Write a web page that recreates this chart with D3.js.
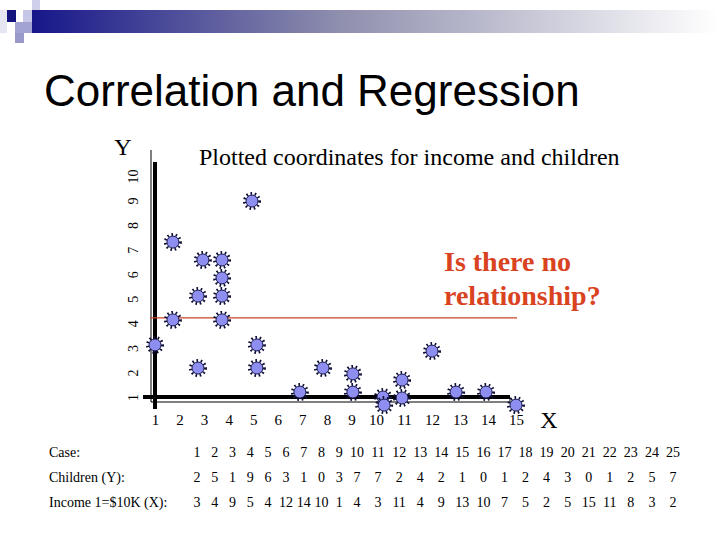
<!DOCTYPE html>
<html>
<head>
<meta charset="utf-8">
<script src="https://cdn.jsdelivr.net/npm/d3@7"></script>
<style>
  body { margin: 0; background: #fff; }
  svg { display: block; }
</style>
</head>
<body>
<div id="chart"></div>
<script>
// Plotted points (income x, children y)
const pointX = [1, 1.73, 1.73, 2.75, 2.75, 2.95, 3.73, 3.73, 3.73, 3.73, 4.95, 5.15, 5.15,
  6.9, 7.84, 9.06, 9.06, 10.25, 10.29, 10.93, 10.93, 12, 12.86, 13.93, 15];
const pointY = [3.12, 7.31, 4.14, 5.11, 2.18, 6.58, 6.58, 5.85, 5.11, 4.14, 8.98, 3.12, 2.18,
  1.2, 2.18, 1.94, 1.2, 1.0, 0.67, 1.69, 0.96, 2.87, 1.2, 1.2, 0.67];

const xTicks = [1, 2, 3, 4, 5, 6, 7, 8, 9, 10, 11, 12, 13, 14, 15];
const yTicks = [1, 2, 3, 4, 5, 6, 7, 8, 9, 10];
const refLine = 4.22;

// Data table under the chart
const cases = d3.range(1, 26);
const children = [2, 5, 1, 9, 6, 3, 1, 0, 3, 7, 7, 2, 4, 2, 1, 0, 1, 2, 4, 3, 0, 1, 2, 5, 7];
const income = [3, 4, 9, 5, 4, 12, 14, 10, 1, 4, 3, 11, 4, 9, 13, 10, 7, 5, 2, 5, 15, 11, 8, 3, 2];
const rowLabels = ['Case:', 'Children (Y):', 'Income 1=$10K (X):'];

const width = 720, height = 540;
const serif = '"Liberation Serif", "Times New Roman", serif';

const svg = d3.select('#chart')
  .append('svg')
    .attr('width', width)
    .attr('height', height);

// Slide header decoration
const defs = svg.append('defs');
const grad = defs.append('linearGradient').attr('id', 'hdr');
grad.append('stop').attr('offset', '0%').attr('stop-color', '#16168a');
grad.append('stop').attr('offset', '45%').attr('stop-color', '#8f8fae');
grad.append('stop').attr('offset', '100%').attr('stop-color', '#ffffff');
svg.append('rect').attr('x', 32).attr('y', 10).attr('width', 685).attr('height', 23)
  .attr('fill', 'url(#hdr)');

const squares = [
  [0, 10, 7, 23, '#e6e6f3'],
  [7, 10, 9, 12, '#14147e'],
  [32, 0, 8, 10, '#cfcfea'],
  [23, 10, 9, 12, '#c6c6e6'],
  [15, 22, 17, 11, '#a3a3d3'],
  [15, 33, 9, 10, '#9a9ac8']
];
svg.selectAll('rect.sq')
  .data(squares)
  .enter()
  .append('rect')
    .attr('class', 'sq')
    .attr('x', d => d[0]).attr('y', d => d[1])
    .attr('width', d => d[2]).attr('height', d => d[3])
    .attr('fill', d => d[4]);

// Title
svg.append('text')
  .attr('x', 44).attr('y', 106)
  .style('font-family', '"Liberation Sans", Arial, sans-serif')
  .style('font-size', '44px')
  .attr('fill', '#000')
  .text('Correlation and Regression');

// Scales: the slide's x ticks widen after 10, so use a piecewise scale
const x = d3.scaleLinear().domain([1, 10, 15]).range([155, 376, 516]);
const y = d3.scaleLinear().domain([1, 10]).range([397, 176]);

// Thin frame lines
svg.append('line').attr('x1', 151).attr('x2', 151).attr('y1', 150).attr('y2', y(1) + 5)
  .attr('stroke', '#000').attr('stroke-width', 1);
svg.append('line').attr('x1', 151).attr('x2', 510).attr('y1', y(1) + 5).attr('y2', y(1) + 5)
  .attr('stroke', '#000').attr('stroke-width', 1);
svg.append('line').attr('x1', 510).attr('x2', 510).attr('y1', y(1)).attr('y2', y(1) + 5)
  .attr('stroke', '#000').attr('stroke-width', 1);

// Thick axis lines crossing at (1, 1)
svg.append('line').attr('x1', 143).attr('x2', 510).attr('y1', y(1)).attr('y2', y(1))
  .attr('stroke', '#000').attr('stroke-width', 4);
svg.append('line').attr('x1', x(1)).attr('x2', x(1)).attr('y1', 162).attr('y2', 409)
  .attr('stroke', '#000').attr('stroke-width', 4);

// X tick labels
const xAxis = svg.append('g')
  .attr('transform', 'translate(0,410)')
  .call(d3.axisBottom(x).tickValues(xTicks).tickSize(0).tickPadding(0).tickFormat(d3.format('d')));
xAxis.select('.domain').remove();
xAxis.selectAll('text')
  .style('font-family', serif).style('font-size', '15px').attr('fill', '#000')
  .attr('dy', '1em');

// Y tick labels, rotated
const yAxis = svg.append('g')
  .attr('transform', 'translate(133,0)')
  .call(d3.axisLeft(y).tickValues(yTicks).tickSize(0).tickPadding(0).tickFormat(d3.format('d')));
yAxis.select('.domain').remove();
yAxis.selectAll('text')
  .style('font-family', serif).style('font-size', '14px').attr('fill', '#000')
  .attr('x', 0).attr('dy', null)
  .attr('text-anchor', 'middle')
  .attr('dominant-baseline', 'central')
  .attr('transform', 'rotate(-90)');

// Axis letters and chart caption
svg.append('text').attr('x', 123).attr('y', 155).attr('text-anchor', 'middle')
  .style('font-family', serif).style('font-size', '24px').text('Y');
svg.append('text').attr('x', 549).attr('y', 428).attr('text-anchor', 'middle')
  .style('font-family', serif).style('font-size', '24px').text('X');
svg.append('text').attr('x', 199).attr('y', 165)
  .style('font-family', serif).style('font-size', '24px')
  .text('Plotted coordinates for income and children');

// Red reference line and question
svg.append('line')
  .attr('x1', 150).attr('x2', 517)
  .attr('y1', y(refLine)).attr('y2', y(refLine))
  .attr('stroke', '#c8452a').attr('stroke-width', 1.2);

const question = svg.append('text')
  .style('font-family', serif).style('font-size', '28px').style('font-weight', 'bold')
  .attr('fill', '#d9431f');
question.append('tspan').attr('x', 444).attr('y', 271).text('Is there no');
question.append('tspan').attr('x', 444).attr('y', 305).text('relationship?');

// Spiky markers
const points = pointX.map((d, i) => [d, pointY[i]]);
const dots = svg.append('g')
  .selectAll('g')
  .data(points)
  .enter()
  .append('g')
    .attr('transform', d => 'translate(' + x(d[0]) + ',' + y(d[1]) + ')');
dots.append('circle')
  .attr('r', 7.5)
  .attr('fill', 'none')
  .attr('stroke', '#10103a')
  .attr('stroke-width', 3)
  .attr('stroke-dasharray', '1.6,2.6');
dots.append('circle')
  .attr('r', 6)
  .attr('fill', '#8e8ef0')
  .attr('stroke', '#1a1a50')
  .attr('stroke-width', 1);

// Data table
const col = d3.scaleLinear().domain([1, 10, 25]).range([197, 357, 673]);
const rowY = [457, 482, 507];
const rows = [cases, children, income];

svg.selectAll('text.rowlabel')
  .data(rowLabels)
  .enter()
  .append('text')
    .attr('class', 'rowlabel')
    .attr('x', 49)
    .attr('y', (d, i) => rowY[i])
    .style('font-family', serif).style('font-size', '14px')
    .text(d => d);

rows.forEach((vals, r) => {
  svg.append('g')
    .selectAll('text')
    .data(vals)
    .enter()
    .append('text')
      .attr('x', (d, i) => col(i + 1))
      .attr('y', rowY[r])
      .attr('text-anchor', 'middle')
      .style('font-family', serif).style('font-size', '14px')
      .text(d => d);
});
</script>
</body>
</html>
